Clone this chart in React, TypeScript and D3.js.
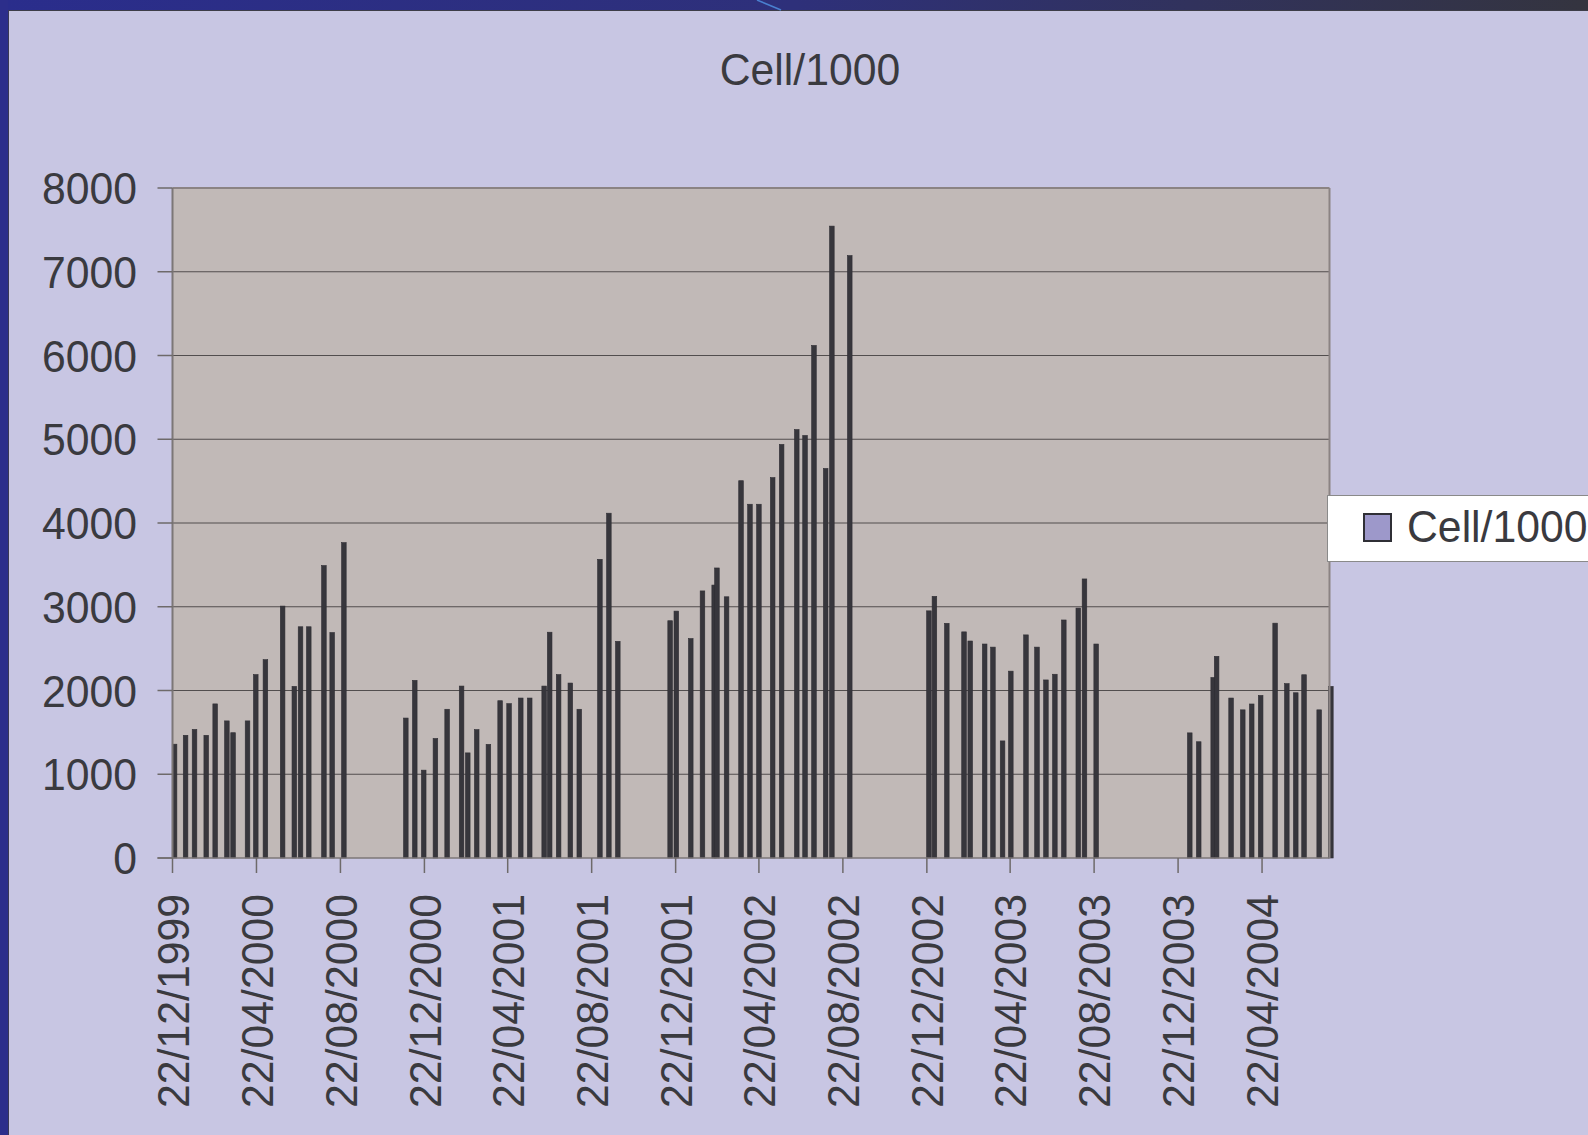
import React from 'react';
import * as d3 from 'd3';

// sample dates (dd) and Cell/1000 values
const sampleDates = [
  '1999-12-25', '2000-01-10', '2000-01-23', '2000-02-09', '2000-02-22', '2000-03-10', '2000-03-19',
  '2000-04-09', '2000-04-21', '2000-05-05', '2000-05-30', '2000-06-16', '2000-06-25', '2000-07-07',
  '2000-07-29', '2000-08-10', '2000-08-27',
  '2000-11-25', '2000-12-08', '2000-12-21', '2001-01-07', '2001-01-24', '2001-02-14', '2001-02-23',
  '2001-03-08', '2001-03-25', '2001-04-11', '2001-04-24', '2001-05-11', '2001-05-24', '2001-06-14',
  '2001-06-22', '2001-07-05', '2001-07-22', '2001-08-04', '2001-09-03', '2001-09-16', '2001-09-29',
  '2001-12-14', '2001-12-23', '2002-01-13', '2002-01-30', '2002-02-16', '2002-02-20', '2002-03-06',
  '2002-03-27', '2002-04-09', '2002-04-22', '2002-05-12', '2002-05-25', '2002-06-16', '2002-06-28',
  '2002-07-11', '2002-07-28', '2002-08-06', '2002-09-01',
  '2002-12-25', '2003-01-02', '2003-01-20', '2003-02-14', '2003-02-23', '2003-03-16', '2003-03-28',
  '2003-04-11', '2003-04-23', '2003-05-15', '2003-05-31', '2003-06-13', '2003-06-26', '2003-07-09',
  '2003-07-30', '2003-08-08', '2003-08-25',
  '2004-01-08', '2004-01-21', '2004-02-11', '2004-02-16', '2004-03-08', '2004-03-25', '2004-04-07',
  '2004-04-20', '2004-05-11', '2004-05-28', '2004-06-10', '2004-06-22', '2004-07-14', '2004-07-31',
];

const cellValues = [
  1359, 1465, 1535, 1465, 1840, 1637, 1496,
  1637, 2190, 2368, 3008, 2049, 2761, 2761,
  3492, 2692, 3766,
  1671, 2121, 1049, 1427, 1776, 2053, 1255,
  1533, 1357, 1878, 1843, 1910, 1910, 2053,
  2696, 2190, 2089, 1776, 3566, 4117, 2587,
  2833, 2948, 2620, 3189, 3259, 3463, 3119,
  4505, 4224, 4224, 4542, 4938, 5116, 5045,
  6120, 4651, 7545, 7193,
  2951, 3124, 2802, 2700, 2591, 2555, 2518,
  1398, 2231, 2664, 2518, 2126, 2194, 2842,
  2984, 3332, 2555,
  1494, 1388, 2155, 2408, 1910, 1769, 1839,
  1941, 2804, 2082, 1973, 2188, 1769, 2049,
];

const xTickLabels = [
  '22/12/1999', '22/04/2000', '22/08/2000', '22/12/2000', '22/04/2001', '22/08/2001', '22/12/2001',
  '22/04/2002', '22/08/2002', '22/12/2002', '22/04/2003', '22/08/2003', '22/12/2003', '22/04/2004',
];

const yTicks = [0, 1000, 2000, 3000, 4000, 5000, 6000, 7000, 8000];

const seriesName = 'Cell/1000';

const W = 1588;
const H = 1135;
const plot = { left: 172.5, right: 1329.5, top: 188, bottom: 858 };

const parseIso = d3.utcParse('%Y-%m-%d');
const parseLabel = d3.utcParse('%d/%m/%Y');

const textColor = '#3a3a3f';
const font = '"Liberation Sans", Arial, Helvetica, sans-serif';
const squeeze = 'scale(0.95,1)'; // the slide's font runs a bit narrower than Arial

export default function App() {
  const data = sampleDates.map((d, i) => ({ date: parseIso(d) as Date, value: cellValues[i] }));

  const x = d3.scaleUtc()
    .domain([parseIso('1999-12-22') as Date, parseIso('2004-07-29') as Date])
    .range([plot.left, plot.right]);

  const y = d3.scaleLinear()
    .domain([0, 8000])
    .range([plot.bottom, plot.top]);

  const barW = 4.6;

  return (
    <svg
      width={W}
      height={H}
      style={{ position: 'fixed', left: 0, top: 0, display: 'block' }}
      fontFamily={font}
    >
      <defs>
        <linearGradient id="topStrip" x1="0" x2="1" y1="0" y2="0">
          <stop offset="0%" stopColor="#2a2d8c" />
          <stop offset="50%" stopColor="#2e307a" />
          <stop offset="100%" stopColor="#34343f" />
        </linearGradient>
      </defs>

      {/* slide background */}
      <rect x={0} y={0} width={W} height={H} fill="#c8c6e3" />
      <rect x={0} y={0} width={W} height={10} fill="url(#topStrip)" />
      <line x1={0} x2={W} y1={10.5} y2={10.5} stroke="#3d3d48" strokeWidth={1} />
      <rect x={0} y={0} width={8} height={H} fill="#2c2e8b" />
      <line x1={8.5} x2={8.5} y1={10} y2={H} stroke="#3a3a55" strokeWidth={1} />
      <line x1={757} y1={0} x2={781} y2={10} stroke="#4a80d0" strokeWidth={1.5} />

      {/* title */}
      <text
        transform={`translate(810,85) ${squeeze}`}
        textAnchor="middle"
        fontSize={45}
        fill={textColor}
      >
        {seriesName}
      </text>

      {/* plot area */}
      <rect
        x={plot.left}
        y={plot.top}
        width={plot.right - plot.left}
        height={plot.bottom - plot.top}
        fill="#c1b9b7"
      />

      {yTicks.slice(1, -1).map(t => (
        <line
          key={t}
          x1={plot.left}
          x2={plot.right}
          y1={y(t)}
          y2={y(t)}
          stroke="#524e4e"
          strokeWidth={1.2}
        />
      ))}

      {/* bars */}
      {data.map((d, i) => (
        <rect
          key={i}
          x={x(d.date) - barW / 2}
          y={y(d.value)}
          width={barW}
          height={y(0) - y(d.value)}
          fill="#37363c"
          stroke="#2f2e34"
          strokeWidth={0.6}
        />
      ))}

      {/* border */}
      <line x1={plot.left} x2={plot.right} y1={plot.top} y2={plot.top} stroke="#8b8383" strokeWidth={2} />
      <line x1={plot.right} x2={plot.right} y1={plot.top} y2={plot.bottom} stroke="#8b8383" strokeWidth={2} />
      <line x1={plot.left} x2={plot.left} y1={plot.top} y2={plot.bottom} stroke="#7c7777" strokeWidth={2} />
      <line x1={plot.left - 15} x2={plot.right} y1={plot.bottom} y2={plot.bottom} stroke="#7c7777" strokeWidth={1.6} />

      {/* y axis */}
      {yTicks.map(t => (
        <g key={t}>
          <line x1={plot.left - 15} x2={plot.left} y1={y(t)} y2={y(t)} stroke="#6e6a6a" strokeWidth={1.5} />
          <text
            transform={`translate(137,${y(t)}) ${squeeze}`}
            textAnchor="end"
            dy="0.36em"
            fontSize={45}
            fill={textColor}
          >
            {t}
          </text>
        </g>
      ))}

      {/* x axis */}
      {xTickLabels.map(lbl => {
        const tx = x(parseLabel(lbl) as Date);
        return (
          <g key={lbl}>
            <line x1={tx} x2={tx} y1={plot.bottom} y2={plot.bottom + 15} stroke="#6e6a6a" strokeWidth={1.5} />
            <text
              transform={`translate(${tx},894) rotate(-90) ${squeeze}`}
              textAnchor="end"
              dy="0.36em"
              fontSize={45}
              fill={textColor}
            >
              {lbl}
            </text>
          </g>
        );
      })}

      {/* legend */}
      <rect x={1327.5} y={495.5} width={300} height={66} fill="#ffffff" stroke="#8a8a8a" strokeWidth={1} />
      <rect x={1364} y={514} width={27} height={27} fill="#9d98ca" stroke="#2f2f35" strokeWidth={2} />
      <text
        transform={`translate(1407,541.5) ${squeeze}`}
        fontSize={45}
        fill={textColor}
      >
        {seriesName}
      </text>
    </svg>
  );
}
